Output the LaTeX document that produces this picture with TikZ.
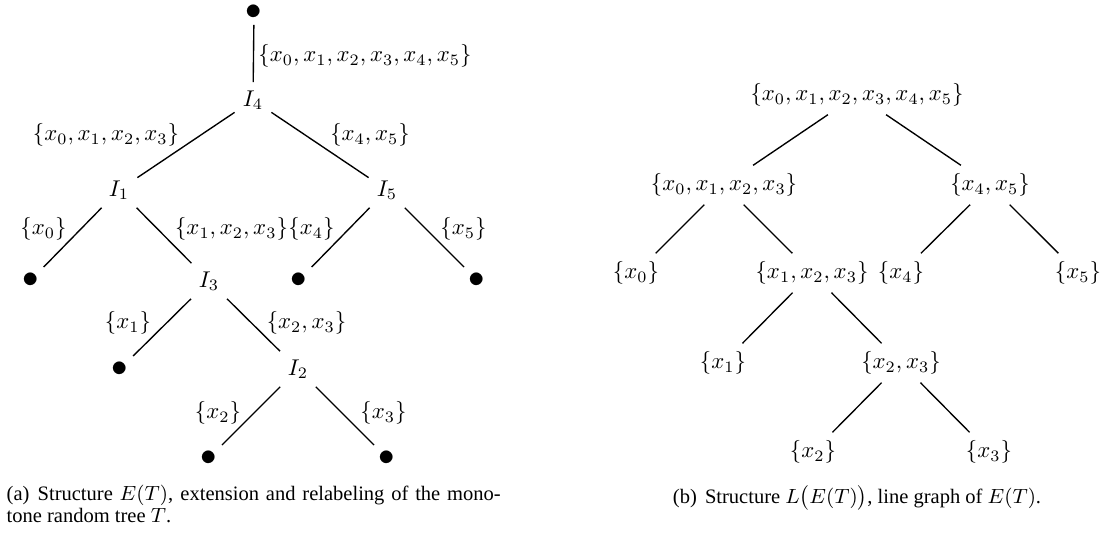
\documentclass[tikz,border=0pt]{standalone}
\usepackage{amsmath,amssymb}
\usepackage{fontspec}
\newfontfamily\capfont{Liberation Serif}

\begin{document}
\begin{tikzpicture}[x=0.4386pt,y=-0.4386pt,semithick,
  leaf/.style={font=\Large,inner sep=0.5pt,outer sep=2pt},
  lbl/.style={inner sep=0pt},
  captxt/.style={font=\capfont\fontsize{9}{9.9}\selectfont,inner sep=0pt}]
\useasboundingbox (0,0) rectangle (1107,535);
% (a) the tree E(T)
\node[leaf] (r) at (254,12) {$\bullet$};
\node (i4) at (253,100) {$I_4$};
\node (i1) at (119,190) {$I_1$};
\node (i5) at (387,190) {$I_5$};
\node[leaf] (d0) at (31,280) {$\bullet$};
\node (i3) at (209,281) {$I_3$};
\node[leaf] (d4) at (299,280) {$\bullet$};
\node[leaf] (d5) at (477,280) {$\bullet$};
\node[leaf] (d1) at (120,369) {$\bullet$};
\node (i2) at (298,369) {$I_2$};
\node[leaf] (d2) at (209,458) {$\bullet$};
\node[leaf] (d3) at (387,458) {$\bullet$};
\foreach \a/\b in {r/i4,i4/i1,i4/i5,i1/d0,i1/i3,i5/d4,i5/d5,i3/d1,i3/i2,i2/d2,i2/d3}
  \draw (\a) -- (\b);
\node[lbl] (e-r) at (365,56) {$\{x_0,x_1,x_2,x_3,x_4,x_5\}$};
\node[lbl] (e-i1) at (106,135) {$\{x_0,x_1,x_2,x_3\}$};
\node[lbl] (e-i5) at (370,135) {$\{x_4,x_5\}$};
\node[lbl] (e-d0) at (43.5,229) {$\{x_0\}$};
\node[lbl] (e-i3) at (231.5,229) {$\{x_1,x_2,x_3\}$};
\node[lbl] (e-d4) at (311.5,229) {$\{x_4\}$};
\node[lbl] (e-d5) at (463.5,229) {$\{x_5\}$};
\node[lbl] (e-d1) at (128,323) {$\{x_1\}$};
\node[lbl] (e-i2) at (306.5,323) {$\{x_2,x_3\}$};
\node[lbl] (e-d2) at (218,413) {$\{x_2\}$};
\node[lbl] (e-d3) at (383.5,413) {$\{x_3\}$};
\node[captxt,anchor=north west,text width=216.7pt,align=justify] (cap-a) at (6,484)
  {(a)\hspace{0.4em}Structure $E(T)$, extension and relabeling of the mono-\linebreak tone random tree $T$.};
% (b) the line graph L(E(T))
\node (s012345) at (857,95) {$\{x_0,x_1,x_2,x_3,x_4,x_5\}$};
\node (s0123) at (724,185) {$\{x_0,x_1,x_2,x_3\}$};
\node (s45) at (990,185) {$\{x_4,x_5\}$};
\node (s0) at (636,273) {$\{x_0\}$};
\node (s123) at (812,273) {$\{x_1,x_2,x_3\}$};
\node (s4) at (901,273) {$\{x_4\}$};
\node (s5) at (1078,273) {$\{x_5\}$};
\node (s1) at (723,363) {$\{x_1\}$};
\node (s23) at (901,363) {$\{x_2,x_3\}$};
\node (s2) at (813,452) {$\{x_2\}$};
\node (s3) at (989,452) {$\{x_3\}$};
\foreach \a/\b in {s012345/s0123,s012345/s45,s0123/s0,s0123/s123,s45/s4,s45/s5,
  s123/s1,s123/s23,s23/s2,s23/s3}
  \draw (\a) -- (\b);
\node[captxt,anchor=base] (cap-b) at (857,503)
  {(b)\hspace{0.4em}Structure $L\big(E(T)\big)$, line graph of $E(T)$.};
\end{tikzpicture}
\end{document}
